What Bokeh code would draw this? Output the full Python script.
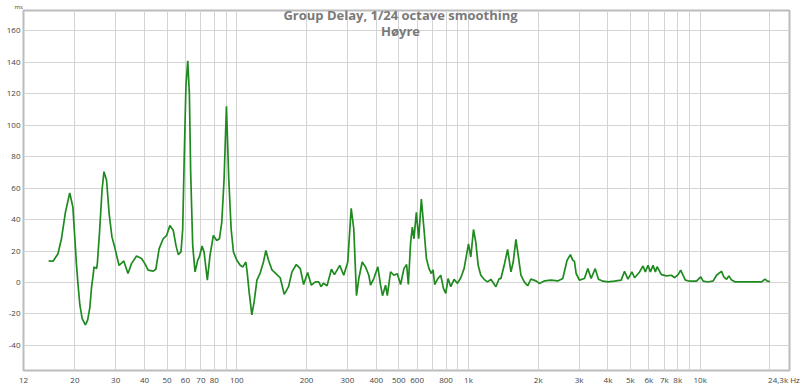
from bokeh.plotting import figure
from bokeh.models import FixedTicker, Label, Range1d, Title
from bokeh.embed import file_html
from bokeh.resources import INLINE

# frequency (Hz) and group delay (ms)
freq_hz = [15.4, 16.1, 16.9, 17.5, 18.2, 19.0, 19.6, 19.95, 20.3, 20.6, 21.0, 21.5, 22.2, 22.7,
           23.2, 23.6, 23.95, 24.2, 24.8, 25.0, 25.6, 26.2, 26.7, 27.4, 28.1, 28.9, 29.7, 31.0,
           31.9, 32.5, 33.9, 35.1, 36.9, 38.8, 40.1, 41.4, 43.6, 44.7, 46.2, 48.1, 49.8, 51.4,
           53.2, 54.6, 55.9, 57.4, 58.4, 59.3, 60.3, 61.4, 62.4, 63.2, 64.5, 66.0, 67.8, 68.9,
           70.8, 72.2, 74.6, 76.6, 79.2, 81.9, 84.1, 86.1, 88.1, 90.2, 92.3, 94.5, 96.7, 100,
           103.4, 106.2, 109.4, 110.8, 113.0, 116.1, 118.8, 122.1, 126.1, 130.3, 133.5, 137.0,
           141.8, 149.0, 153.9, 160.2, 167.2, 173.0, 180.6, 187.9, 194.2, 202.1, 209.7, 218.3,
           225.6, 231.0, 236.3, 245.2, 256.0, 263.8, 278.1, 289.4, 301.2, 311.6, 319.8, 328.5,
           336.1, 347.7, 359.3, 371.3, 377.7, 390.3, 406.2, 417.3, 425.6, 438.5, 446.1, 460.9,
           476.4, 492.8, 509.3, 526.3, 540.7, 550.0, 562.7, 572.3, 581.5, 595.6, 609.4, 626.0,
           642.5, 658.1, 675.3, 691.7, 702.9, 714.9, 734.4, 759.0, 779.7, 797.7, 816.3, 838.6,
           866.6, 896.4, 926.4, 957.2, 1000, 1023, 1051, 1075, 1101, 1130, 1168, 1208, 1249,
           1313, 1357, 1380, 1426, 1475, 1525, 1560, 1602, 1639, 1684, 1740, 1800, 1860, 1956,
           2021, 2125, 2272, 2429, 2552, 2664, 2754, 2820, 2866, 2915, 3012, 3165, 3275, 3384,
           3523, 3640, 3804, 3998, 4268, 4562, 4716, 4878, 5076, 5211, 5477, 5666, 5798, 5956,
           6094, 6260, 6406, 6516, 6801, 7149, 7512, 7762, 8030, 8241, 8440, 8636, 9016, 9638,
           10060, 10304, 10830, 11385, 11766, 12159, 12367, 12655, 12999, 13300, 13663, 14120,
           15865, 18428, 19045, 19500, 20012]
delay_ms = [13.7, 13.5, 18.3, 27.8, 44.6, 57.0, 48.0, 30.0, 12.0, 0.0, -14.0, -23.0, -27.0, -24.0,
            -16.0, -3.0, 4.0, 9.9, 8.8, 12.0, 34.0, 59.0, 70.5, 65.0, 44.0, 29.0, 22.5, 10.9,
            12.5, 13.7, 5.7, 12.0, 16.8, 15.2, 12.0, 7.8, 7.2, 8.4, 21.5, 27.8, 30.0, 36.2,
            33.0, 23.6, 17.7, 19.4, 34.0, 80.0, 125.0, 141.0, 120.0, 70.0, 23.6, 6.7, 14.1, 16.2,
            23.2, 19.4, 1.5, 17.2, 29.9, 26.7, 27.8, 38.3, 65.7, 112.0, 65.7, 34.0, 19.4, 14.1,
            10.9, 9.9, 13.0, 6.7, -6.0, -20.6, -12.2, 1.5, 6.0, 13.0, 20.4, 14.1,
            8.0, 5.0, 3.0, -7.6, -2.7, 6.7, 11.4, 8.8, -1.3, 6.3, -1.7, 0.4,
            0.4, -2.7, -0.5, -2.1, 8.4, 5.0, 10.9, 4.6, 13.0, 47.2, 34.0, -8.4,
            2.5, 13.0, 9.9, 4.6, -1.7, 2.5, 9.9, -1.7, -8.4, -1.7, -8.4, 6.7,
            4.6, 5.5, -1.3, 8.8, 11.4, -1.3, 25.7, 35.2, 27.8, 44.6, 27.8, 53.0,
            34.0, 15.2, 8.8, 5.7, 8.0, -1.3, 2.0, 4.6, -3.8, -6.9, 2.5, -2.7,
            2.0, -0.6, 3.0, 8.8, 24.6, 16.2, 33.7, 25.7, 10.9, 4.6, 2.0, 0.4, 2.0,
            -2.7, 2.5, 2.5, 10.9, 21.0, 6.7, 13.0, 27.4, 17.2, 4.6, 0.4, -2.1, 2.1, 1.0,
            -0.6, 1.0, 1.5, 1.0, 2.5, 14.1, 17.7, 14.1, 13.5, 5.7, 1.5, 2.5, 8.8, 2.5,
            8.8, 2.1, 0.8, 0.4, 0.8, 1.5, 7.1, 2.1, 6.7, 3.0, 6.7, 10.5, 6.7, 10.9,
            6.7, 10.9, 6.7, 10.0, 5.0, 4.2, 4.6, 3.0, 5.0, 7.8, 4.5, 1.5, 0.8, 0.8,
            3.6, 0.8, 0.3, 1.0, 4.6, 6.3, 7.1, 3.5, 2.0, 4.2, 1.5, 0.4,
            0.4, 0.4, 2.1, 0.8, 0.5]

x_tick_values = [12, 20, 30, 40, 50, 60, 70, 80, 100, 200, 300, 400, 500, 600, 800,
                 1000, 2000, 3000, 4000, 5000, 6000, 7000, 8000, 10000, 23000]
x_tick_labels = ["12", "20", "30", "40", "50", "60", "70", "80", "100", "200", "300", "400",
                 "500", "600", "800", "1k", "2k", "3k", "4k", "5k", "6k", "7k", "8k", "10k",
                 "24,3k Hz"]
x_grid_values = [20, 30, 40, 50, 60, 70, 80, 90, 100, 200, 300, 400, 500, 600, 700, 800, 900,
                 1000, 2000, 3000, 4000, 5000, 6000, 7000, 8000, 9000, 10000, 20000]
y_tick_values = [-40, -20, 0, 20, 40, 60, 80, 100, 120, 140, 160]

title_text = "Group Delay, 1/24 octave smoothing"
subtitle_text = "Høyre"
y_unit = "ms"

p = figure(width=800, height=387, x_axis_type="log", output_backend="svg",
           toolbar_location=None, x_range=Range1d(12, 24300), y_range=Range1d(-56, 173),
           min_border_left=23, min_border_right=11, min_border_top=8, min_border_bottom=13,
           background_fill_color="white", border_fill_color="white")
p.outline_line_color = "#bcbcbc"
p.outline_line_width = 2

p.line(freq_hz, delay_ms, line_color="#1f8a1f", line_width=1.7)

for ax in (p.xaxis[0], p.yaxis[0]):
    ax.axis_line_color = None
    ax.major_tick_line_color = None
    ax.minor_tick_line_color = None
    ax.major_tick_out = 0
    ax.major_tick_in = 0
    ax.minor_tick_out = 0
    ax.minor_tick_in = 0
    ax.major_label_text_font = "Open Sans"
    ax.major_label_text_font_size = "8px"
    ax.major_label_text_color = "#444444"
    ax.major_label_standoff = 3

p.xaxis.ticker = FixedTicker(ticks=x_tick_values)
p.xaxis.major_label_overrides = {v: l for v, l in zip(x_tick_values, x_tick_labels)}
p.yaxis.ticker = FixedTicker(ticks=y_tick_values)
p.yaxis.major_label_overrides = {v: str(v) for v in y_tick_values}

p.xgrid.ticker = FixedTicker(ticks=x_grid_values)
p.ygrid.ticker = FixedTicker(ticks=y_tick_values)
p.xgrid.grid_line_color = "#d4d4d4"
p.ygrid.grid_line_color = "#d4d4d4"
p.xgrid.grid_line_width = 1
p.ygrid.grid_line_width = 1

p.add_layout(Title(text=y_unit, align="left", offset=-9, standoff=0,
                   text_font="Open Sans", text_font_style="normal",
                   text_font_size="6px", text_color="#444444"), "above")

p.add_layout(Label(x=377, y=356, x_units="screen", y_units="screen", text=title_text,
                   text_align="center", text_baseline="middle", text_font="Open Sans",
                   text_font_style="bold", text_font_size="13px", text_color="#7a7a7a"))
p.add_layout(Label(x=377, y=340, x_units="screen", y_units="screen", text=subtitle_text,
                   text_align="center", text_baseline="middle", text_font="Open Sans",
                   text_font_style="bold", text_font_size="13px", text_color="#7a7a7a"))

open("out.html", "w").write(file_html(p, INLINE))
